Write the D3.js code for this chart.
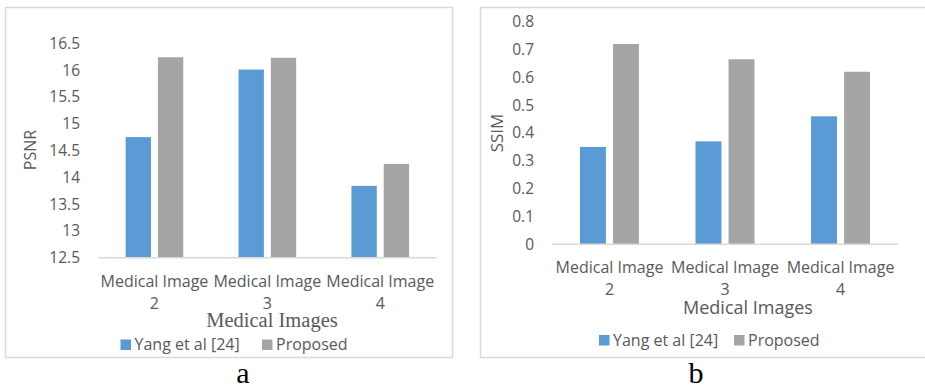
<!DOCTYPE html>
<html>
<head>
<meta charset="utf-8">
<script src="https://cdn.jsdelivr.net/npm/d3@7"></script>
<style>
  html, body { margin: 0; padding: 0; background: #fff; }
  svg { display: block; }
  text { font-family: "Open Sans", sans-serif; fill: #595959; }
</style>
</head>
<body>
<svg id="chart" width="925" height="389"></svg>
<script>
// Shared categories and series
const categories = ["Medical Image 2", "Medical Image 3", "Medical Image 4"];
const seriesNames = ["Yang et al [24]", "Proposed"];
const seriesColors = ["#5b9bd5", "#a5a5a5"];

// Panel a: PSNR
const psnrYang = [14.75, 16.01, 13.84];
const psnrProposed = [16.24, 16.23, 14.25];
const psnrTicks = [12.5, 13, 13.5, 14, 14.5, 15, 15.5, 16, 16.5];

// Panel b: SSIM
const ssimYang = [0.35, 0.37, 0.46];
const ssimProposed = [0.72, 0.665, 0.62];
const ssimTicks = [0, 0.1, 0.2, 0.3, 0.4, 0.5, 0.6, 0.7, 0.8];

const svg = d3.select("#chart");

function drawPanel(cfg) {
  const g = svg.append("g");

  // outer frame
  g.append("rect")
    .attr("x", cfg.frame[0] + 0.5).attr("y", cfg.frame[1] + 0.5)
    .attr("width", cfg.frame[2]).attr("height", cfg.frame[3])
    .attr("fill", "#fff").attr("stroke", "#d9d9d9").attr("stroke-width", 1.5);

  const x0 = d3.scaleBand().domain(categories).range([cfg.left, cfg.right]).padding(0);
  const x1 = d3.scaleBand().domain(seriesNames).range([0, x0.bandwidth()])
    .paddingInner(0.215).paddingOuter(0.856);
  const y = d3.scaleLinear().domain(cfg.domain).range([cfg.bottom, cfg.top]);

  // y tick labels
  const yAxis = d3.axisLeft(y).tickValues(cfg.ticks).tickSize(0).tickPadding(0)
    .tickFormat(d3.format("~g"));
  const ya = g.append("g").attr("transform", `translate(${cfg.tickRight},0)`).call(yAxis);
  ya.select(".domain").remove();
  ya.selectAll("text").style("font-family", "Open Sans, sans-serif")
    .style("font-size", "15.5px").attr("fill", "#595959");

  // bars
  const rows = categories.map((c, i) => ({ cat: c, vals: cfg.series.map(s => s[i]) }));
  const groups = g.selectAll("g.grp").data(rows).join("g")
    .attr("class", "grp")
    .attr("transform", d => `translate(${x0(d.cat)},0)`);
  groups.selectAll("rect").data(d => d.vals.map((v, k) => ({ name: seriesNames[k], v, k })))
    .join("rect")
    .attr("x", d => x1(d.name))
    .attr("width", x1.bandwidth())
    .attr("y", d => y(d.v))
    .attr("height", d => y(cfg.domain[0]) - y(d.v))
    .attr("fill", d => seriesColors[d.k]);

  // baseline
  g.append("line")
    .attr("x1", cfg.left).attr("x2", cfg.right)
    .attr("y1", y(cfg.domain[0])).attr("y2", y(cfg.domain[0]))
    .attr("stroke", "#d9d9d9").attr("stroke-width", 1.5);

  // category labels (two lines)
  const xl = g.append("g");
  categories.forEach(c => {
    const parts = [c.slice(0, c.lastIndexOf(" ")), c.slice(c.lastIndexOf(" ") + 1)];
    const cx = x0(c) + x0.bandwidth() / 2;
    const t = xl.append("text").attr("text-anchor", "middle").style("font-size", "16px");
    t.append("tspan").attr("x", cx).attr("y", cfg.bottom + 29).text(parts[0]);
    t.append("tspan").attr("x", cx).attr("y", cfg.bottom + 51).text(parts[1]);
  });

  // y axis title
  g.append("text")
    .attr("transform", `translate(${cfg.yTitle[0]},${cfg.yTitle[1]}) rotate(-90)`)
    .attr("text-anchor", "middle").attr("dy", "0.35em")
    .style("font-size", cfg.yTitleSize)
    .text(cfg.yLabel);

  // x axis title
  g.append("text")
    .attr("x", cfg.xTitle[0]).attr("y", cfg.xTitle[1])
    .attr("text-anchor", "middle")
    .style("font-family", cfg.xTitleFont)
    .style("font-size", cfg.xTitleSize)
    .text("Medical Images");

  // legend
  const lg = g.append("g");
  seriesNames.forEach((n, k) => {
    lg.append("rect")
      .attr("x", cfg.legend[k][0]).attr("y", cfg.legendY - 10.5)
      .attr("width", 10.5).attr("height", 10.5)
      .attr("fill", seriesColors[k]);
    lg.append("text")
      .attr("x", cfg.legend[k][0] + 14).attr("y", cfg.legendY)
      .style("font-size", "16px")
      .text(n);
  });

  // panel caption
  g.append("text")
    .attr("x", cfg.caption[0]).attr("y", cfg.caption[1])
    .attr("text-anchor", "middle")
    .style("font-family", "Liberation Serif, Times New Roman, serif")
    .style("font-size", "30px").style("fill", "#000")
    .text(cfg.captionText);
}

drawPanel({
  frame: [5, 7, 447, 350],
  left: 98, right: 436.7, top: 43.3, bottom: 257.7,
  domain: [12.5, 16.5], ticks: psnrTicks,
  series: [psnrYang, psnrProposed],
  tickRight: 80,
  yLabel: "PSNR", yTitle: [30, 150], yTitleSize: "16px",
  xTitle: [272, 327], xTitleFont: "Liberation Serif, Times New Roman, serif", xTitleSize: "20.5px",
  legend: [[120.5, 0], [262, 0]], legendY: 350,
  caption: [243, 383], captionText: "a"
});

drawPanel({
  frame: [480, 7, 460, 350],
  left: 551.7, right: 898.3, top: 21.7, bottom: 244.3,
  domain: [0, 0.8], ticks: ssimTicks,
  series: [ssimYang, ssimProposed],
  tickRight: 534,
  yLabel: "SSIM", yTitle: [497, 133], yTitleSize: "17px",
  xTitle: [748, 314], xTitleFont: "Open Sans, sans-serif", xTitleSize: "18px",
  legend: [[599, 0], [734, 0]], legendY: 345.5,
  caption: [696, 383], captionText: "b"
});
</script>
</body>
</html>
